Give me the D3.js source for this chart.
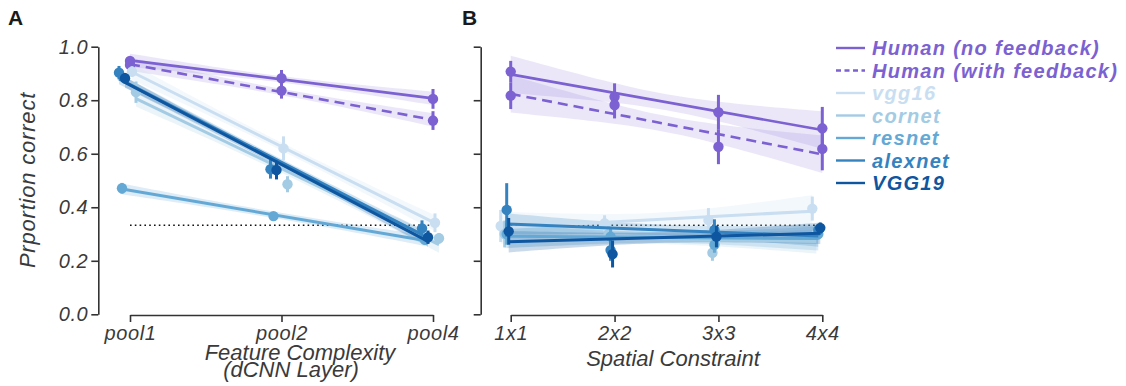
<!DOCTYPE html>
<html><head><meta charset="utf-8">
<script src="https://cdn.jsdelivr.net/npm/d3@7"></script>
<style>
html,body{margin:0;padding:0;background:#fff;}
svg{display:block;}
</style></head>
<body>
<svg id="chart" width="1126" height="386"></svg>
<script>
// ---------- DATA ----------
const layers = ["pool1", "pool2", "pool4"];
const constraints = ["1x1", "2x2", "3x3", "4x4"];
const seriesNames = ["Human (no feedback)", "Human (with feedback)", "vgg16", "cornet", "resnet", "alexnet", "VGG19"];
const yTicks = [0.0, 0.2, 0.4, 0.6, 0.8, 1.0];
const chanceLevel = 0.333;

// Panel A: proportion correct by dCNN layer (mean, error half-width)
const aHumanNoFb      = [0.947, 0.882, 0.805];
const aHumanNoFbErr   = [0.012, 0.031, 0.037];
const aHumanFb        = [0.932, 0.836, 0.724];
const aHumanFbErr     = [0.012, 0.030, 0.035];
const aVgg16          = [0.907, 0.620, 0.342];
const aVgg16Err       = [0.020, 0.045, 0.035];
const aCornet         = [0.830, 0.486, 0.284];
const aCornetErr      = [0.040, 0.030, 0.020];
const aResnet         = [0.471, 0.367, 0.278];
const aResnetErr      = [0.020, 0.010, 0.010];
const aAlexnet        = [0.903, 0.542, 0.321];
const aAlexnetErr     = [0.025, 0.035, 0.030];
const aVgg19          = [0.882, 0.539, 0.288];
const aVgg19Err       = [0.020, 0.035, 0.025];
// regression confidence band half-widths [centre, ends]
const aBand           = [[0.012, 0.025], [0.012, 0.025], [0.015, 0.03], [0.015, 0.03], [0.012, 0.02], [0.012, 0.02], [0.012, 0.02]];

// Panel B: proportion correct by spatial constraint
const bHumanNoFb      = [0.907, 0.813, 0.755, 0.695];
const bHumanNoFbErr   = [0.040, 0.050, 0.065, 0.080];
const bHumanFb        = [0.817, 0.782, 0.626, 0.618];
const bHumanFbErr     = [0.050, 0.050, 0.065, 0.080];
const bVgg16          = [0.330, 0.340, 0.352, 0.395];
const bVgg16Err       = [0.060, 0.030, 0.045, 0.045];
const bCornet         = [0.300, 0.300, 0.230, 0.300];
const bCornetErr      = [0.050, 0.030, 0.030, 0.020];
const bResnet         = [0.300, 0.290, 0.260, 0.300];
const bResnetErr      = [0.040, 0.030, 0.030, 0.020];
const bAlexnet        = [0.390, 0.240, 0.315, 0.315];
const bAlexnetErr     = [0.100, 0.040, 0.040, 0.020];
const bVgg19          = [0.310, 0.225, 0.290, 0.323];
const bVgg19Err       = [0.050, 0.050, 0.040, 0.020];
const bBand           = [[0.03, 0.07], [0.03, 0.07], [0.025, 0.06], [0.02, 0.045], [0.02, 0.045], [0.02, 0.04], [0.02, 0.04]];

// ---------- STYLE ----------
const colors = ["#7b61d1", "#7b61d1", "#c9def1", "#a3cbe4", "#64a9d5", "#3483c0", "#0e569f"];
const dashes = [null, "10,6", null, null, null, null, null];
const dodgeA = [0, 0, 2, 6, -8, -11, -5];
const dodgeB = [0, 0, -10, -6, -4, -4, -2];
const tickFont = "'Liberation Sans', Arial, sans-serif";

const svg = d3.select("#chart");

const y = d3.scaleLinear().domain([0, 1]).range([314.3, 46.7]);
const xA = d3.scalePoint().domain(layers).range([130, 433]);
const xB = d3.scalePoint().domain(constraints).range([510.7, 822.3]);

const seriesA = [
  [aHumanNoFb, aHumanNoFbErr], [aHumanFb, aHumanFbErr], [aVgg16, aVgg16Err],
  [aCornet, aCornetErr], [aResnet, aResnetErr], [aAlexnet, aAlexnetErr], [aVgg19, aVgg19Err]
];
const seriesB = [
  [bHumanNoFb, bHumanNoFbErr], [bHumanFb, bHumanFbErr], [bVgg16, bVgg16Err],
  [bCornet, bCornetErr], [bResnet, bResnetErr], [bAlexnet, bAlexnetErr], [bVgg19, bVgg19Err]
];

function linfit(vals) {
  const n = vals.length, xs = d3.range(n);
  const mx = d3.mean(xs), my = d3.mean(vals);
  let sxy = 0, sxx = 0;
  xs.forEach((xv, i) => { sxy += (xv - mx) * (vals[i] - my); sxx += (xv - mx) * (xv - mx); });
  const b = sxy / sxx;
  return { a: my - b * mx, b, mx, n };
}

function drawPanel(g, xScale, cats, series, bands, dodge) {
  // chance line
  g.append("line")
    .attr("x1", xScale(cats[0])).attr("x2", xScale(cats[cats.length - 1]))
    .attr("y1", y(chanceLevel)).attr("y2", y(chanceLevel))
    .attr("stroke", "#111").attr("stroke-width", 1.6).attr("stroke-dasharray", "1.6,3.2");

  series.forEach((s, si) => {
    const vals = s[0];
    const fit = linfit(vals);
    const n = vals.length;
    const half = (n - 1) / 2;
    const xi = d3.range(0, n - 1 + 1e-9, (n - 1) / 40);
    const px = t => xScale(cats[0]) + t * xScale.step() + dodge[si];
    const hw = t => {
      const c = bands[si][0], e = bands[si][1];
      const r = (t - fit.mx) / half;
      return Math.sqrt(c * c + (e * e - c * c) * r * r);
    };
    const area = d3.area()
      .x(t => px(t))
      .y0(t => y(fit.a + fit.b * t - hw(t)))
      .y1(t => y(fit.a + fit.b * t + hw(t)));
    g.append("path").attr("d", area(xi))
      .attr("fill", colors[si]).attr("fill-opacity", si < 2 ? 0.15 : 0.22);
  });

  series.forEach((s, si) => {
    const vals = s[0], errs = s[1];
    const fit = linfit(vals);
    const n = vals.length;
    const px = t => xScale(cats[0]) + t * xScale.step() + dodge[si];
    g.append("line")
      .attr("x1", px(0)).attr("x2", px(n - 1))
      .attr("y1", y(fit.a)).attr("y2", y(fit.a + fit.b * (n - 1)))
      .attr("stroke", colors[si]).attr("stroke-width", si < 2 ? 2.6 : 3)
      .attr("stroke-dasharray", dashes[si]);
    vals.forEach((v, i) => {
      const cx = xScale(cats[i]) + dodge[si];
      g.append("line")
        .attr("x1", cx).attr("x2", cx)
        .attr("y1", y(v - errs[i])).attr("y2", y(v + errs[i]))
        .attr("stroke", colors[si]).attr("stroke-width", 3);
      g.append("circle").attr("cx", cx).attr("cy", y(v)).attr("r", 5.2)
        .attr("fill", colors[si]);
    });
  });
}

const gA = svg.append("g");
const gB = svg.append("g");
drawPanel(gA, xA, layers, seriesA, aBand, dodgeA);
drawPanel(gB, xB, constraints, seriesB, bBand, dodgeB);

// ---------- AXES ----------
function styleAxis(sel) {
  sel.select(".domain").attr("stroke", "#333").attr("stroke-width", 1.6);
  sel.selectAll(".tick line").attr("stroke", "#333").attr("stroke-width", 1.6);
  sel.selectAll(".tick text").attr("fill", "#3a3a3a")
    .style("font-family", tickFont).style("font-style", "italic")
    .style("font-size", "20px").style("letter-spacing", "0.6px");
}
const yAxisA = d3.axisLeft(y).tickValues(yTicks).tickFormat(d3.format(".1f")).tickSize(7).tickSizeOuter(0).tickPadding(3);
svg.append("g").attr("transform", "translate(98.3,0)").call(yAxisA).call(styleAxis);
const yAxisB = d3.axisLeft(y).tickValues(yTicks).tickFormat("").tickSize(7).tickSizeOuter(0);
svg.append("g").attr("transform", "translate(480.7,0)").call(yAxisB).call(styleAxis);
const xAxisA = d3.axisBottom(xA).tickSize(7).tickSizeOuter(0).tickPadding(4);
svg.append("g").attr("transform", "translate(0,315)").call(xAxisA).call(styleAxis);
const xAxisB = d3.axisBottom(xB).tickSize(7).tickSizeOuter(0).tickPadding(4);
svg.append("g").attr("transform", "translate(0,315)").call(xAxisB).call(styleAxis);

// ---------- LABELS ----------
const labelStyle = s => s.attr("fill", "#3a3a3a").style("font-family", tickFont)
  .style("font-style", "italic").style("font-size", "22px").attr("text-anchor", "middle");
svg.append("text").attr("transform", "translate(35,180) rotate(-90)")
  .text("Prportion correct").call(labelStyle).style("letter-spacing", "0.8px");
svg.append("text").attr("x", 300).attr("y", 360).text("Feature Complexity").call(labelStyle);
svg.append("text").attr("x", 291).attr("y", 377).text("(dCNN Layer)").call(labelStyle);
svg.append("text").attr("x", 673).attr("y", 366).text("Spatial Constraint").call(labelStyle);

svg.append("text").attr("x", 8).attr("y", 25).text("A")
  .attr("fill", "#1a1a1a").style("font-family", tickFont).style("font-weight", "bold").style("font-size", "21px");
svg.append("text").attr("x", 462).attr("y", 25).text("B")
  .attr("fill", "#1a1a1a").style("font-family", tickFont).style("font-weight", "bold").style("font-size", "21px");

// ---------- LEGEND ----------
const legend = svg.append("g").attr("transform", "translate(836,48)");
seriesNames.forEach((name, i) => {
  const gy = i * 22.5;
  legend.append("line").attr("x1", 0).attr("x2", 29).attr("y1", gy).attr("y2", gy)
    .attr("stroke", colors[i]).attr("stroke-width", 2.4)
    .attr("stroke-dasharray", i === 1 ? "5,3.5" : null);
  legend.append("text").attr("x", 36).attr("y", gy + 7).text(name)
    .attr("fill", colors[i]).style("font-family", tickFont)
    .style("font-weight", "bold").style("font-style", "italic")
    .style("font-size", "20px").style("letter-spacing", "1.3px");
});
</script>
</body></html>
